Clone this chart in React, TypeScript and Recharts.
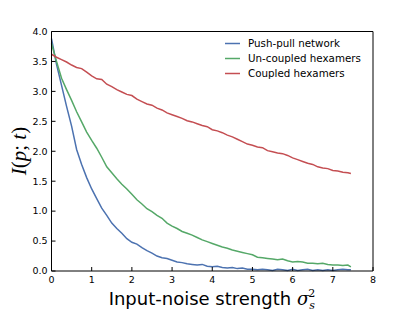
import { LineChart, Line, XAxis, YAxis, Legend, Label } from "recharts";

// noise strength sigma_s^2 (x values)
const sigma2 = [
  0, 0.125, 0.25, 0.375, 0.5, 0.625, 0.75, 0.875, 1, 1.125,
  1.25, 1.375, 1.5, 1.625, 1.75, 1.875, 2, 2.125, 2.25, 2.375,
  2.5, 2.625, 2.75, 2.875, 3, 3.125, 3.25, 3.375, 3.5, 3.625,
  3.75, 3.875, 4, 4.125, 4.25, 4.375, 4.5, 4.625, 4.75, 4.875,
  5, 5.125, 5.25, 5.375, 5.5, 5.625, 5.75, 5.875, 6, 6.125,
  6.25, 6.375, 6.5, 6.625, 6.75, 6.875, 7, 7.125, 7.25, 7.375,
  7.45,
];

const pushPull = [
  3.88, 3.45, 3.1, 2.75, 2.42, 2.03, 1.78, 1.56, 1.37, 1.21,
  1.05, 0.93, 0.8, 0.71, 0.63, 0.54, 0.48, 0.45, 0.39, 0.34,
  0.3, 0.25, 0.22, 0.21, 0.18, 0.15, 0.14, 0.12, 0.11, 0.1,
  0.11, 0.08, 0.07, 0.08, 0.06, 0.05, 0.06, 0.04, 0.05, 0.03,
  0.03, 0.02, 0.03, 0.02, 0.01, 0.03, 0.02, 0.01, 0.03, 0.01,
  0.02, 0.03, 0.01, 0.02, 0.01, 0.02, 0.01, 0.02, 0.03, 0.02,
  0.02,
];

const uncoupled = [
  3.8, 3.5, 3.22, 3.03, 2.85, 2.66, 2.49, 2.32, 2.18, 2.05,
  1.9, 1.74, 1.64, 1.54, 1.45, 1.37, 1.28, 1.19, 1.12, 1.04,
  0.99, 0.93, 0.88, 0.8, 0.75, 0.71, 0.66, 0.63, 0.6, 0.56,
  0.52, 0.49, 0.46, 0.43, 0.4, 0.38, 0.35, 0.33, 0.31, 0.29,
  0.27, 0.23, 0.22, 0.21, 0.2, 0.19, 0.2, 0.17, 0.15, 0.16,
  0.15, 0.13, 0.13, 0.12, 0.13, 0.11, 0.1, 0.1, 0.09, 0.1,
  0.07,
];

const coupled = [
  3.62, 3.57, 3.53, 3.49, 3.44, 3.4, 3.38, 3.32, 3.26, 3.21,
  3.2, 3.12, 3.08, 3.03, 2.99, 2.95, 2.93, 2.87, 2.83, 2.79,
  2.77, 2.72, 2.69, 2.64, 2.61, 2.58, 2.55, 2.51, 2.49, 2.46,
  2.43, 2.41, 2.36, 2.34, 2.31, 2.27, 2.24, 2.2, 2.16, 2.12,
  2.1, 2.07, 2.06, 2.01, 1.99, 1.97, 1.96, 1.93, 1.89, 1.86,
  1.83, 1.8, 1.78, 1.74, 1.72, 1.71, 1.68, 1.67, 1.65, 1.64,
  1.63,
];

const xTicks = [0, 1, 2, 3, 4, 5, 6, 7, 8];
const yTicks = [0, 0.5, 1, 1.5, 2, 2.5, 3, 3.5, 4];

const seriesNames = ["Push-pull network", "Un-coupled hexamers", "Coupled hexamers"];
const COLORS = ["#4c72b0", "#55a868", "#c44e52"];

const data = sigma2.map((s, i) => ({
  s,
  pp: pushPull[i],
  un: uncoupled[i],
  co: coupled[i],
}));

const TICK_FONT = { fontFamily: "DejaVu Sans", fontSize: 9.5, fill: "#000" };

function LegendBox() {
  return (
    <div style={{ fontFamily: "DejaVu Sans", fontSize: 10.3, color: "#000", lineHeight: "15px" }}>
      {seriesNames.map((name, i) => (
        <div key={name} style={{ display: "flex", alignItems: "center", height: 15 }}>
          <svg width={26} height={15}>
            <line x1={3} y1={7.5} x2={18} y2={7.5} stroke={COLORS[i]} strokeWidth={1.5} />
          </svg>
          <span>{name}</span>
        </div>
      ))}
    </div>
  );
}

export default function App() {
  return (
    <div style={{ position: "absolute", left: 0, top: 0, width: 415, height: 312, background: "#fff" }}>
      <LineChart
        width={415}
        height={312}
        data={data}
        margin={{ top: 30.5, right: 41, left: 11, bottom: 11 }}
      >
        <XAxis
          xAxisId="x"
          dataKey="s"
          type="number"
          domain={[0, 8]}
          ticks={xTicks}
          height={30}
          stroke="#000"
          tickSize={-4}
          tickMargin={9}
          tick={TICK_FONT}
          interval={0}
        >
          <Label
            content={() => (
              <text x={212} y={305} textAnchor="middle" fontFamily="DejaVu Sans" fontSize={18} fill="#000">
                Input-noise strength{" "}
                <tspan fontFamily="DejaVu Serif" fontStyle="italic">σ</tspan>
                <tspan fontFamily="DejaVu Serif" fontStyle="italic" fontSize={11} dy={4}>s</tspan>
                <tspan fontFamily="DejaVu Serif" fontSize={11} dx={-6.5} dy={-12}>2</tspan>
              </text>
            )}
          />
        </XAxis>
        <XAxis
          xAxisId="top"
          orientation="top"
          dataKey="s"
          type="number"
          domain={[0, 8]}
          ticks={xTicks}
          height={1}
          stroke="#000"
          tickSize={-4}
          tick={false}
          interval={0}
        />
        <YAxis
          yAxisId="y"
          type="number"
          domain={[0, 4]}
          ticks={yTicks}
          width={40.5}
          stroke="#000"
          tickSize={-4}
          tickMargin={8}
          tick={TICK_FONT}
          tickFormatter={(v: number) => v.toFixed(1)}
          interval={0}
        >
          <Label
            content={() => (
              <text
                x={0}
                y={0}
                transform="translate(26 151) rotate(-90)"
                textAnchor="middle"
                fontFamily="Liberation Serif"
                fontSize={21}
                fill="#000"
              >
                <tspan fontStyle="italic">I</tspan>(<tspan fontStyle="italic">p</tspan>;{" "}
                <tspan fontStyle="italic">t</tspan>)
              </text>
            )}
          />
        </YAxis>
        <YAxis
          yAxisId="right"
          orientation="right"
          type="number"
          domain={[0, 4]}
          ticks={yTicks}
          width={1}
          stroke="#000"
          tickSize={-4}
          tick={false}
          interval={0}
        />
        <Legend
          layout="horizontal"
          verticalAlign="middle"
          align="center"
          content={() => <LegendBox />}
          wrapperStyle={{ left: 222, top: 36, width: 140 }}
        />
        <Line xAxisId="x" yAxisId="y" dataKey="pp" name={seriesNames[0]} stroke={COLORS[0]} strokeWidth={1.5} dot={false} isAnimationActive={false} />
        <Line xAxisId="x" yAxisId="y" dataKey="un" name={seriesNames[1]} stroke={COLORS[1]} strokeWidth={1.5} dot={false} isAnimationActive={false} />
        <Line xAxisId="x" yAxisId="y" dataKey="co" name={seriesNames[2]} stroke={COLORS[2]} strokeWidth={1.5} dot={false} isAnimationActive={false} />
      </LineChart>
    </div>
  );
}
